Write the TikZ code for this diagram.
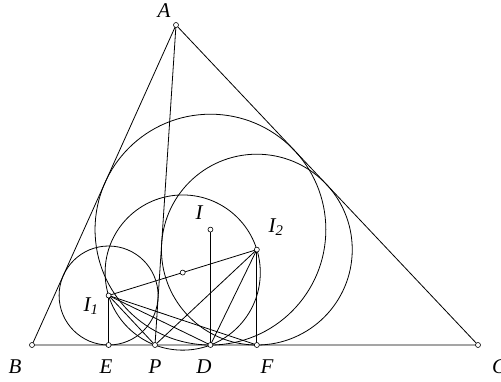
\documentclass[tikz,border=0pt]{standalone}
\usepackage{fontspec}
\setmainfont{Liberation Serif}
\usepackage{tikz}
\usetikzlibrary{positioning}

\tikzset{
  pt/.style={circle, draw, fill=white, line width=0.6pt, inner sep=0pt, minimum size=5pt},
  lbl/.style={font=\fontsize{21}{24}\selectfont\itshape, inner sep=0pt}
}

\begin{document}
\begin{tikzpicture}[x=1pt, y=-1pt, line width=0.8pt]
  \useasboundingbox (0,0) rectangle (501,381);

  % points of the triangle and on BC
  \coordinate (A) at (176,25);
  \coordinate (B) at (32,345);
  \coordinate (C) at (478,345);
  \coordinate (E) at (108.6,345);
  \coordinate (P) at (155,345);
  \coordinate (D) at (210.45,345);
  \coordinate (F) at (256.85,345);

  % centres
  \coordinate (I) at (210.45,229.6);
  \coordinate (I1) at (108.6,295.5);
  \coordinate (I2) at (256.85,249.6);
  \coordinate (M) at (182.7,272.55);

  % triangle and cevian
  \draw (A) -- (B) -- (C) -- cycle;
  \draw (A) -- (P);

  % circles
  \draw (I) circle[radius=115.4];
  \draw (I1) circle[radius=49.5];
  \draw (I2) circle[radius=95.4];
  \draw (M) circle[radius=77.6];

  % segments from the centres
  \draw (I1) -- (E);
  \draw (I1) -- (P);
  \draw (I1) -- (D);
  \draw (I1) -- (F);
  \draw (I1) -- (I2);
  \draw (I2) -- (P);
  \draw (I2) -- (D);
  \draw (I2) -- (F);
  \draw (I) -- (D);

  % small open dots
  \foreach \p in {A,B,C,E,P,D,F,I,I1,I2,M}
    \node[pt] (dot\p) at (\p) {};

  % labels
  \node[lbl] (labA) at (164,11) {A};
  \node[lbl] (labB) at (15,367) {B};
  \node[lbl] (labC) at (499,367) {C};
  \node[lbl] (labE) at (106,367) {E};
  \node[lbl] (labP) at (155,367) {P};
  \node[lbl] (labD) at (204,367) {D};
  \node[lbl] (labF) at (267,367) {F};
  \node[lbl] (labI) at (199,213) {I};
  \node[lbl] (labI1) at (91,306) {I\textsubscript{1}};
  \node[lbl] (labI2) at (276,227) {I\textsubscript{2}};
\end{tikzpicture}
\end{document}
